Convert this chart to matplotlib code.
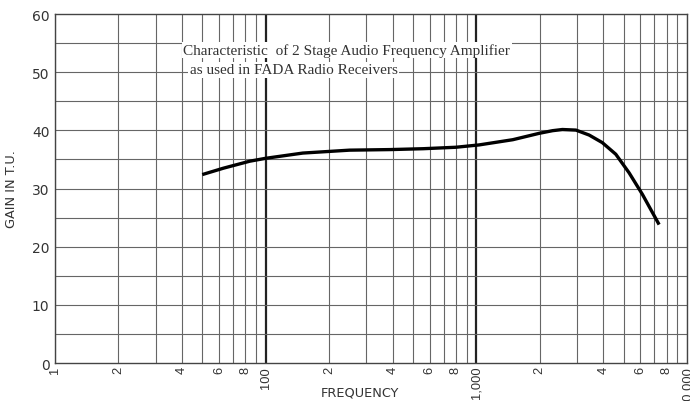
import numpy as np
import matplotlib.pyplot as plt

# datos
freq = [50, 63, 84, 100, 150, 250, 390, 560, 800, 1030, 1490, 1990, 2300, 2560, 2970,
        3430, 3960, 4590, 5310, 6140, 7370]
gain = [32.4, 33.5, 34.7, 35.2, 36.1, 36.6, 36.7, 36.85, 37.1, 37.5, 38.4, 39.5, 39.95, 40.15, 40.05,
        39.2, 37.9, 35.9, 32.7, 29.0, 23.8]

tick_pos = [m * d for d in [10, 100, 1000] for m in range(1, 10)] + [10000]
tick_lab = ['1', '2', '', '4', '', '6', '', '8', '',
            '100', '2', '', '4', '', '6', '', '8', '',
            '1,000', '2', '', '4', '', '6', '', '8', '',
            '10,000']
y_ticks = [0, 10, 20, 30, 40, 50, 60]

fig = plt.figure(figsize=(6.9, 4.02), dpi=100)
ax = fig.add_axes([0.0797, 0.0945, 0.916, 0.868])

ax.set_xscale('log')
ax.set_xlim(10, 10000)
ax.set_ylim(0, 60)

# rejilla
for x in tick_pos:
    grueso = x in (100, 1000)
    ax.axvline(x, color='#222222' if grueso else '#666666', lw=1.6 if grueso else 0.8, zorder=1)
for y in range(5, 60, 5):
    ax.axhline(y, color='#666666', lw=0.8, zorder=1)

ax.plot(freq, gain, color='black', lw=2.4, solid_capstyle='butt', solid_joinstyle='round', zorder=3)

ax.set_xticks(tick_pos)
ax.set_xticklabels(tick_lab, rotation=90, fontsize=9.3, color='#333333', family='Liberation Sans')
ax.xaxis.set_minor_locator(plt.NullLocator())
ax.set_yticks(y_ticks)
ax.set_yticklabels([str(v) for v in y_ticks], fontsize=10, color='#333333')
ax.tick_params(axis='y', length=0, pad=4)
ax.tick_params(axis='x', length=0, pad=2)

for s in ax.spines.values():
    s.set_color('#444444')
    s.set_linewidth(1.0)

ax.set_xlabel('FREQUENCY', fontsize=9.3, color='#333333')
ax.xaxis.set_label_coords(0.483, -0.065)
ax.set_ylabel('GAIN IN T.U.', fontsize=9.3, color='#333333')
ax.yaxis.set_label_coords(-0.058, 0.5)

ax.text(0.203, 0.897, 'Characteristic  of 2 Stage Audio Frequency Amplifier',
        transform=ax.transAxes, family='Liberation Serif', fontsize=11, color='#333333',
        va='center', bbox=dict(facecolor='white', edgecolor='none', pad=1), zorder=4)
ax.text(0.213, 0.840, 'as used in FADA Radio Receivers',
        transform=ax.transAxes, family='Liberation Serif', fontsize=11, color='#333333',
        va='center', bbox=dict(facecolor='white', edgecolor='none', pad=1), zorder=4)

fig.savefig('out.png', dpi=100)
